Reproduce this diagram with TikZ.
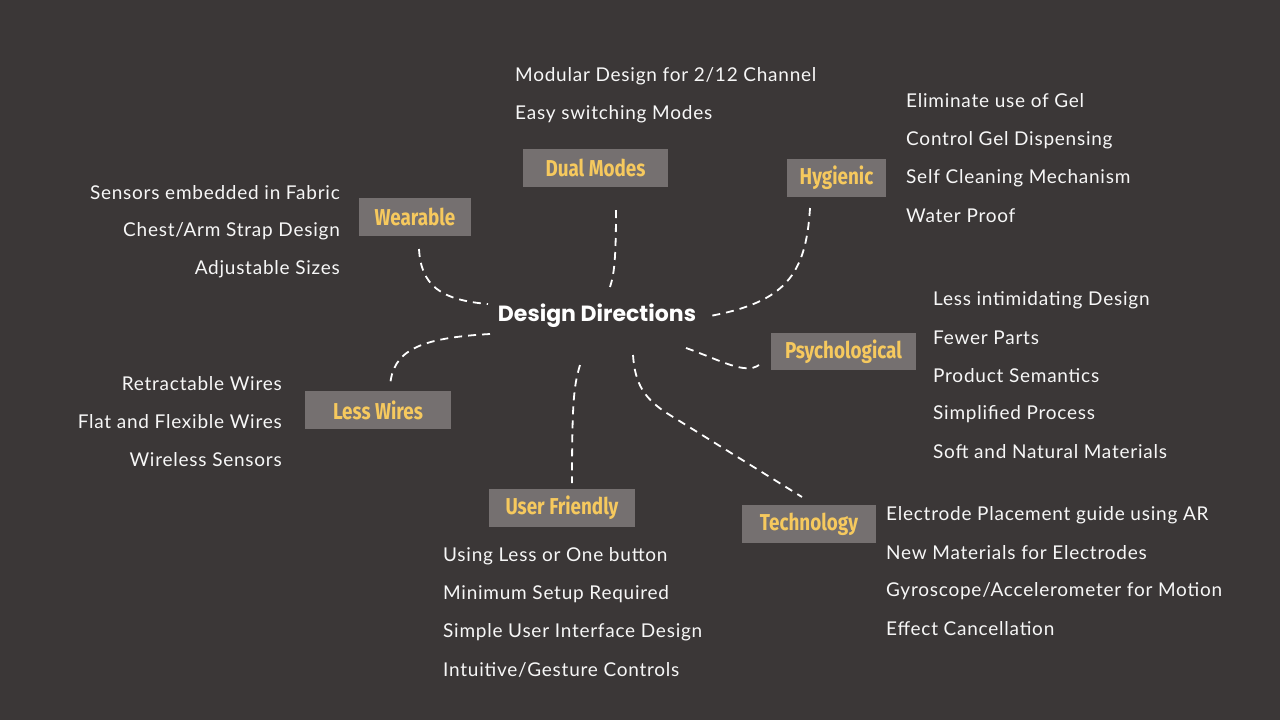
\documentclass[tikz,border=0pt]{standalone}
\usepackage{fontspec}
\setmainfont{Lato}
\newfontfamily\handfont{Lato}[LetterSpace=4]
\newfontfamily\labfont{Fira Sans}[FakeStretch=0.82]
\newfontfamily\hubfont{Poppins}
\definecolor{bg}{HTML}{3B3737}
\definecolor{boxc}{HTML}{757070}
\definecolor{yel}{HTML}{F6C95E}
\definecolor{txt}{HTML}{F7F7F7}
\tikzset{
  cat/.style={fill=boxc, text=yel, font=\labfont\fontsize{23}{27}\selectfont\bfseries, inner sep=0pt, minimum height=38pt},
  item/.style={text=txt, font=\handfont\fontsize{19}{23}\selectfont, inner sep=0pt},
  link/.style={draw=white, line width=1.8pt, dash pattern=on 8pt off 6pt},
}
\begin{document}
\begin{tikzpicture}[x=1pt,y=-1pt]
\fill[bg] (0,0) rectangle (1280,720);
\useasboundingbox (0,0) rectangle (1280,720);

% hub
\node[text=white, font=\hubfont\fontsize{22}{26}\selectfont\bfseries, inner sep=0pt] (hub) at (597,316) {Design Directions};

% category boxes
\node[cat, minimum width=145pt] (dual) at (595.5,168) {Dual Modes};
\node[cat, minimum width=112pt] (wear) at (415,217) {Wearable};
\node[cat, minimum width=99pt] (hyg) at (836.5,178) {Hygienic};
\node[cat, minimum width=145pt, minimum height=37pt] (psy) at (843.5,351.5) {Psychological};
\node[cat, minimum width=146pt] (less) at (378,410) {Less Wires};
\node[cat, minimum width=146pt] (user) at (562,508) {User Friendly};
\node[cat, minimum width=134pt] (tech) at (809,524) {Technology};

% connector end points
\coordinate (wA) at (419,249);  \coordinate (wB) at (488,304);
\coordinate (dA) at (616,210);  \coordinate (dB) at (610,287);
\coordinate (hA) at (810,208);  \coordinate (hB) at (710,316);
\coordinate (pA) at (686,348);  \coordinate (pB) at (759,365);
\coordinate (lA) at (490,334);  \coordinate (lB) at (390,387);
\coordinate (uA) at (580,365);  \coordinate (uB) at (572,483);
\coordinate (tA) at (633,355);  \coordinate (tM) at (665,412); \coordinate (tB) at (802,497);

\draw[link] (wA) .. controls (421,285) and (440,300) .. (wB);
\draw[link] (dA) .. controls (616,260) and (614,275) .. (dB);
\draw[link] (hA) .. controls (806,275) and (785,302) .. (hB);
\draw[link] (pA) .. controls (720,360) and (745,375) .. (pB);
\draw[link] (lA) .. controls (420,338) and (392,350) .. (lB);
\draw[link] (uA) .. controls (574,385) and (572,400) .. (uB);
\draw[link] (tA) .. controls (635,385) and (645,398) .. (tM) -- (tB);

% Dual Modes list
\node[item, anchor=west] (d1) at (515,76) {Modular Design for 2/12 Channel};
\node[item, anchor=west] (d2) at (515,114) {Easy switching Modes};

% Hygienic list
\node[item, anchor=west] (h1) at (906,101) {Eliminate use of Gel};
\node[item, anchor=west] (h2) at (906,140) {Control Gel Dispensing};
\node[item, anchor=west] (h3) at (906,178) {Self Cleaning Mechanism};
\node[item, anchor=west] (h4) at (906,216) {Water Proof};

% Wearable list
\node[item, anchor=east] (w1) at (340,193) {Sensors embedded in Fabric};
\node[item, anchor=east] (w2) at (340,231) {Chest/Arm Strap Design};
\node[item, anchor=east] (w3) at (340,269) {Adjustable Sizes};

% Psychological list
\node[item, anchor=west] (p1) at (933,300) {Less intimidating Design};
\node[item, anchor=west] (p2) at (933,338) {Fewer Parts};
\node[item, anchor=west] (p3) at (933,376) {Product Semantics};
\node[item, anchor=west] (p4) at (933,414) {Simplified Process};
\node[item, anchor=west] (p5) at (933,452) {Soft and Natural Materials};

% Less Wires list
\node[item, anchor=east] (l1) at (282,384) {Retractable Wires};
\node[item, anchor=east] (l2) at (282,422) {Flat and Flexible Wires};
\node[item, anchor=east] (l3) at (282,460) {Wireless Sensors};

% User Friendly list
\node[item, anchor=west] (u1) at (443,556) {Using Less or One button};
\node[item, anchor=west] (u2) at (443,594) {Minimum Setup Required};
\node[item, anchor=west] (u3) at (443,632) {Simple User Interface Design};
\node[item, anchor=west] (u4) at (443,670) {Intuitive/Gesture Controls};

% Technology list
\node[item, anchor=west] (t1) at (886,515) {Electrode Placement guide using AR};
\node[item, anchor=west] (t2) at (886,553) {New Materials for Electrodes};
\node[item, anchor=west] (t3) at (886,591) {Gyroscope/Accelerometer for Motion};
\node[item, anchor=west] (t4) at (886,629) {Effect Cancellation};
\end{tikzpicture}
\end{document}
